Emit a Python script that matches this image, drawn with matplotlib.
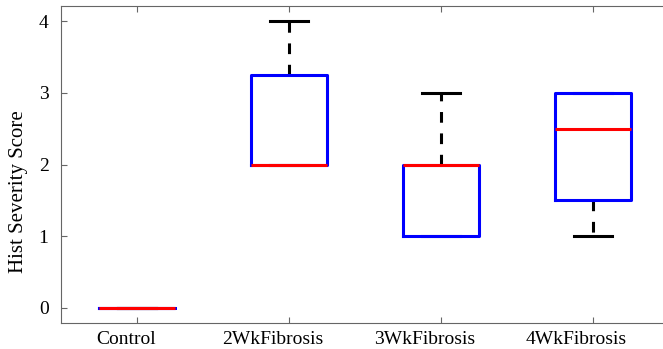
import matplotlib.pyplot as plt
from matplotlib.transforms import ScaledTranslation

groups = ["Control", "2WkFibrosis", "3WkFibrosis", "4WkFibrosis"]
q1 = [0, 2, 1, 1.5]
med = [0, 2, 2, 2.5]
q3 = [0, 3.25, 2, 3]
lo = [0, 2, 1, 1]
hi = [0, 4, 3, 3]

plt.rcParams['font.family'] = ['Liberation Serif', 'DejaVu Serif']

stats = []
for i, g in enumerate(groups):
    stats.append(dict(label=g, q1=q1[i], med=med[i], q3=q3[i],
                      whislo=lo[i], whishi=hi[i], fliers=[]))

fig = plt.figure(figsize=(6.63, 3.49), dpi=100)
ax = fig.add_axes([61 / 663, 1 - 323 / 349, 608 / 663, 317 / 349])

ax.bxp(stats, positions=[1, 2, 3, 4], widths=0.5, capwidths=0.25,
       boxprops=dict(color="blue", linewidth=2.2, zorder=3),
       medianprops=dict(color="red", linewidth=2.2, zorder=4),
       whiskerprops=dict(color="black", linewidth=2.2, linestyle=(0, (3.5, 3.5)), zorder=2),
       capprops=dict(color="black", linewidth=2.2, zorder=2),
       showfliers=False)

ax.set_xlim(0.5, 4.5)
ax.set_ylim(-0.21, 4.21)
ax.set_yticks([0, 1, 2, 3, 4])
ax.set_ylabel("Hist Severity Score", fontsize=15)
ax.yaxis.set_label_coords(-0.055, 0.413)
ax.tick_params(direction="in", top=True, right=True, labelsize=14,
               color="#666666", length=4)
ax.tick_params(axis="y", pad=9)
ax.tick_params(axis="x", pad=6)
for s in ax.spines.values():
    s.set_color("#666666")

# labels in the original sit a little left of their ticks
for lab in ax.get_xticklabels():
    dx = -0.105 if lab.get_text() == "Control" else -0.165
    lab.set_transform(lab.get_transform() + ScaledTranslation(dx, 0, fig.dpi_scale_trans))

fig.savefig("out.png", dpi=100)
